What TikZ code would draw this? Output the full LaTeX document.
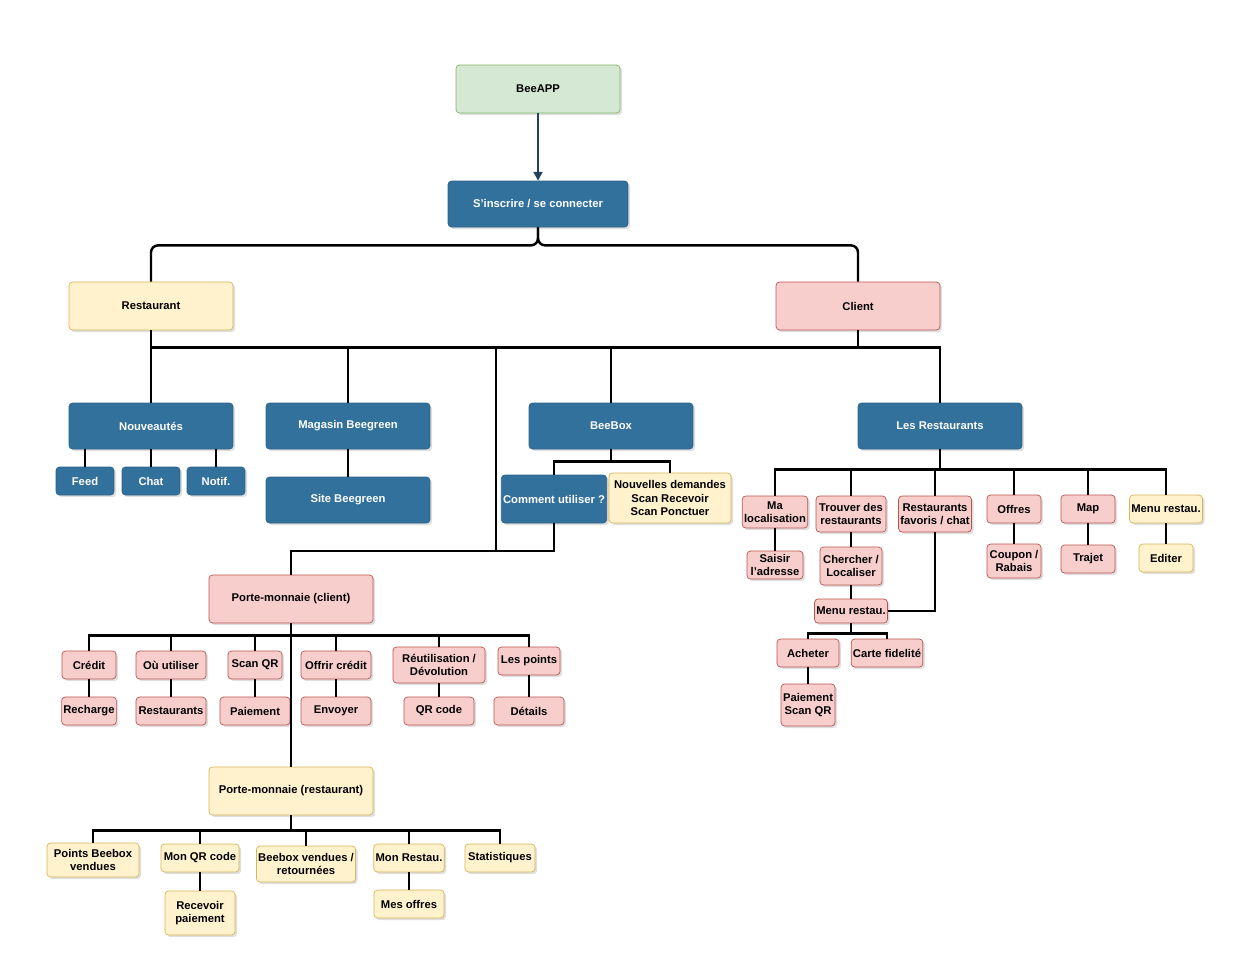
\documentclass[tikz,border=0pt]{standalone}
\usepackage{fontspec}
\setmainfont{Liberation Sans}
\usepackage{xcolor}
\usetikzlibrary{arrows.meta,shadows}
\definecolor{GreenFill}{HTML}{D5E8D4}
\definecolor{GreenLine}{HTML}{82B366}
\definecolor{BlueFill}{HTML}{32719C}
\definecolor{BlueLine}{HTML}{2A628A}
\definecolor{YellowFill}{HTML}{FFF2CC}
\definecolor{YellowLine}{HTML}{D6B656}
\definecolor{PinkFill}{HTML}{F8CECC}
\definecolor{PinkLine}{HTML}{B85450}
\definecolor{Navy}{HTML}{23405E}
\tikzset{
  box/.style={rounded corners=2pt,align=center,font=\fontsize{6.4}{7.6}\selectfont\bfseries,
    inner sep=1pt,drop shadow={opacity=.25,shadow xshift=1.2pt,shadow yshift=-1.2pt}},
  green/.style={box,draw=GreenLine,fill=GreenFill},
  blue/.style={box,draw=BlueLine,fill=BlueFill,text=white},
  yellow/.style={box,draw=YellowLine,fill=YellowFill},
  pink/.style={box,draw=PinkLine,fill=PinkFill},
  link/.style={draw=black,line width=1.4pt},
}
\begin{document}
\begin{tikzpicture}[x=0.02cm,y=-0.02cm]
   \useasboundingbox (0,0) rectangle (1234,978);

   % main levels
   \node[green,minimum width=3.28cm,minimum height=0.96cm] (app) at (538,89) {BeeAPP};
   \node[blue,minimum width=3.6cm,minimum height=0.92cm] (login) at (538,204) {S'inscrire / se connecter};
   \node[yellow,minimum width=3.28cm,minimum height=0.96cm] (resto) at (151,306) {Restaurant};
   \node[pink,minimum width=3.28cm,minimum height=0.96cm] (client) at (858,306) {Client};

   \node[blue,minimum width=3.28cm,minimum height=0.92cm] (news) at (151,426) {Nouveautés};
   \node[blue,minimum width=3.28cm,minimum height=0.92cm] (shop) at (348,426) {Magasin Beegreen};
   \node[blue,minimum width=3.28cm,minimum height=0.92cm] (beebox) at (611,426) {BeeBox};
   \node[blue,minimum width=3.28cm,minimum height=0.92cm] (list) at (940,426) {Les Restaurants};

   \node[blue,minimum width=1.16cm,minimum height=0.56cm] (feed) at (85,481) {Feed};
   \node[blue,minimum width=1.16cm,minimum height=0.56cm] (chat) at (151,481) {Chat};
   \node[blue,minimum width=1.16cm,minimum height=0.56cm] (notif) at (216,481) {Notif.};
   \node[blue,minimum width=3.28cm,minimum height=0.92cm] (site) at (348,500) {Site Beegreen};
   \node[blue,minimum width=1.96cm,minimum height=0.96cm] (howto) at (554,499) {Comment utiliser ?};
   \node[yellow,minimum width=2.44cm,minimum height=1cm] (requests) at (670,498) {Nouvelles demandes\\Scan Recevoir\\Scan Ponctuer};

   % wallet (client)
   \node[pink,minimum width=3.28cm,minimum height=0.96cm] (walletc) at (291,599) {Porte-monnaie (client)};
   \node[pink,minimum width=1.08cm,minimum height=0.56cm] (credit) at (89,665) {Crédit};
   \node[pink,minimum width=1.4cm,minimum height=0.56cm] (where) at (171,665) {Où utiliser};
   \node[pink,minimum width=1.08cm,minimum height=0.56cm] (scan) at (255,665) {Scan QR};
   \node[pink,minimum width=1.4cm,minimum height=0.56cm] (gift) at (336,665) {Offrir crédit};
   \node[pink,minimum width=1.84cm,minimum height=0.72cm] (reuse) at (439,665) {Réutilisation /\\Dévolution};
   \node[pink,minimum width=1.24cm,minimum height=0.56cm] (points) at (529,661) {Les points};
   \node[pink,minimum width=1.08cm,minimum height=0.56cm] (reload) at (89,711) {Recharge};
   \node[pink,minimum width=1.4cm,minimum height=0.56cm] (restos) at (171,711) {Restaurants};
   \node[pink,minimum width=1.4cm,minimum height=0.56cm] (pay) at (255,711) {Paiement};
   \node[pink,minimum width=1.4cm,minimum height=0.56cm] (send) at (336,711) {Envoyer};
   \node[pink,minimum width=1.4cm,minimum height=0.56cm] (qr) at (439,711) {QR code};
   \node[pink,minimum width=1.4cm,minimum height=0.56cm] (details) at (529,711) {Détails};

   % wallet (restaurant)
   \node[yellow,minimum width=3.28cm,minimum height=0.96cm] (walletr) at (291,791) {Porte-monnaie (restaurant)};
   \node[yellow,minimum width=1.84cm,minimum height=0.68cm] (sold) at (93,860) {Points Beebox\\vendues};
   \node[yellow,minimum width=1.56cm,minimum height=0.56cm] (myqr) at (200,858) {Mon QR code};
   \node[yellow,minimum width=1.96cm,minimum height=0.72cm] (boxes) at (306,864) {Beebox vendues /\\retournées};
   \node[yellow,minimum width=1.4cm,minimum height=0.56cm] (myresto) at (409,858) {Mon Restau.};
   \node[yellow,minimum width=1.4cm,minimum height=0.56cm] (stats) at (500,858) {Statistiques};
   \node[yellow,minimum width=1.4cm,minimum height=0.88cm] (receive) at (200,913) {Recevoir\\paiement};
   \node[yellow,minimum width=1.4cm,minimum height=0.56cm] (offers) at (409,904) {Mes offres};

   % restaurants list
   \node[pink,minimum width=1.16cm,minimum height=0.64cm] (loc) at (775,512) {Ma\\localisation};
   \node[pink,minimum width=1.4cm,minimum height=0.72cm] (find) at (851,514) {Trouver des\\restaurants};
   \node[pink,minimum width=1.36cm,minimum height=0.72cm] (fav) at (935,514) {Restaurants\\favoris / chat};
   \node[pink,minimum width=1.08cm,minimum height=0.56cm] (deals) at (1014,509) {Offres};
   \node[pink,minimum width=1.08cm,minimum height=0.56cm] (map) at (1088,509) {Map};
   \node[yellow,minimum width=1.24cm,minimum height=0.56cm] (menuy) at (1166,509) {Menu restau.};
   \node[pink,minimum width=1.12cm,minimum height=0.56cm] (addr) at (775,565) {Saisir\\l'adresse};
   \node[pink,minimum width=1.24cm,minimum height=0.76cm] (search) at (851,566) {Chercher /\\Localiser};
   \node[pink,minimum width=1.08cm,minimum height=0.68cm] (coupon) at (1014,561) {Coupon /\\Rabais};
   \node[pink,minimum width=1.08cm,minimum height=0.56cm] (route) at (1088,559) {Trajet};
   \node[yellow,minimum width=1.08cm,minimum height=0.56cm] (edit) at (1166,558) {Editer};
   \node[pink,minimum width=1.24cm,minimum height=0.48cm] (menup) at (851,611) {Menu restau.};
   \node[pink,minimum width=1.24cm,minimum height=0.56cm] (buy) at (808,653) {Acheter};
   \node[pink,minimum width=1.24cm,minimum height=0.56cm] (card) at (887,653) {Carte fidelité};
   \node[pink,minimum width=1.08cm,minimum height=0.84cm] (payqr) at (808,705) {Paiement\\Scan QR};

   % connectors
   \draw[draw=Navy,line width=1.4pt,-{Triangle[length=5pt,width=5pt]}] (app) -- (login);
   \draw[link,rounded corners=4pt] (login.south) -- ++(0,18) -| (resto.north);
   \draw[link,rounded corners=4pt] (login.south) -- ++(0,18) -| (client.north);
   \coordinate (join) at (496,551);
   \foreach \n in {news,shop,beebox,list}
     \draw[link] (resto.south) -- ++(0,17) -| (\n.north);
   \draw[link] (client.south) -- ++(0,17) -| (news.north);
   \draw[link] (resto.south) -- ++(0,17) -| (join) -| (walletc.north);
   \draw[link] (howto.south) |- (join);
   \foreach \n in {feed,chat,notif}
     \draw[link] (news.south -| \n.north) -- (\n.north);
   \draw[link] (shop) -- (site);
   \foreach \n in {howto,requests}
     \draw[link] (beebox.south) -- ++(0,12) -| (\n.north);
   \foreach \n in {loc,find,fav,deals,map,menuy}
     \draw[link] (list.south) -- ++(0,20) -| (\n.north);
   \draw[link] (loc) -- (addr);
   \draw[link] (find) -- (search);
   \draw[link] (search) -- (menup);
   \draw[link] (fav.south) |- (menup.east);
   \draw[link] (deals) -- (coupon);
   \draw[link] (map) -- (route);
   \draw[link] (menuy) -- (edit);
   \foreach \n in {buy,card}
     \draw[link] (menup.south) -- ++(0,10) -| (\n.north);
   \draw[link] (buy) -- (payqr);

   \foreach \n in {credit,where,scan,gift,reuse,points}
     \draw[link] (walletc.south) -- ++(0,12) -| (\n.north);
   \draw[link] (credit) -- (reload);
   \draw[link] (where) -- (restos);
   \draw[link] (scan) -- (pay);
   \draw[link] (gift) -- (send);
   \draw[link] (reuse) -- (qr);
   \draw[link] (points) -- (details);
   \draw[link] (walletc) -- (walletr);

   \foreach \n in {sold,myqr,boxes,myresto,stats}
     \draw[link] (walletr.south) -- ++(0,15) -| (\n.north);
   \draw[link] (myqr) -- (receive);
   \draw[link] (myresto) -- (offers);
\end{tikzpicture}
\end{document}
